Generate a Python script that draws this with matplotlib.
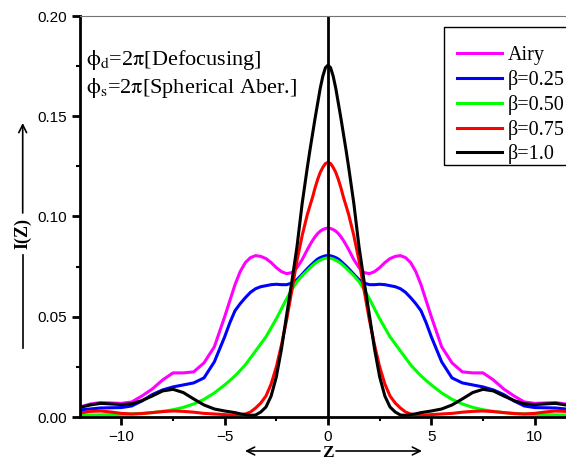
import matplotlib.pyplot as plt
from matplotlib.patches import Rectangle
import numpy as np

plt.rcParams['font.family'] = ['Liberation Sans', 'DejaVu Sans']
plt.rcParams['mathtext.fontset'] = 'stix'

## Data
z = [-12, -11.5, -11, -10.5, -10, -9.5, -9, -8.5, -8, -7.5, -7, -6.5, -6, -5.5,
     -5, -4.75, -4.5, -4.25, -4, -3.75, -3.5, -3.25, -3,
     -2.75, -2.5, -2.25, -2, -1.75, -1.5, -1.25, -1, -0.875, -0.75, -0.625, -0.5, -0.375, -0.25, -0.125,
     0,
     0.125, 0.25, 0.375, 0.5, 0.625, 0.75, 0.875, 1, 1.25, 1.5, 1.75, 2, 2.25, 2.5, 2.75,
     3, 3.25, 3.5, 3.75, 4, 4.25, 4.5, 4.75, 5,
     5.5, 6, 6.5, 7, 7.5, 8, 8.5, 9, 9.5, 10, 10.5, 11, 11.5, 12]

airy = [0.0050, 0.0065, 0.0072, 0.0070, 0.0068, 0.0075, 0.0105, 0.0140, 0.0185, 0.0220, 0.0220, 0.0225, 0.0270, 0.0350,
        0.0500, 0.0580, 0.0660, 0.0725, 0.0770, 0.0795, 0.0805, 0.0801, 0.0790,
        0.0770, 0.0745, 0.0725, 0.0715, 0.0720, 0.0745, 0.0785, 0.0835, 0.0858, 0.0880, 0.0899, 0.0915, 0.0927, 0.0935, 0.0940,
        0.0942,
        0.0940, 0.0935, 0.0927, 0.0915, 0.0899, 0.0880, 0.0858, 0.0835, 0.0785, 0.0745, 0.0720, 0.0715, 0.0725, 0.0745, 0.0770,
        0.0790, 0.0801, 0.0805, 0.0795, 0.0770, 0.0725, 0.0660, 0.0580, 0.0500,
        0.0350, 0.0270, 0.0225, 0.0220, 0.0220, 0.0185, 0.0140, 0.0105, 0.0075, 0.0068, 0.0070, 0.0072, 0.0065, 0.0050]

b025 = [0.0035, 0.0040, 0.0045, 0.0046, 0.0047, 0.0055, 0.0080, 0.0112, 0.0135, 0.0150, 0.0160, 0.0170, 0.0195, 0.0275,
        0.0400, 0.0470, 0.0530, 0.0565, 0.0595, 0.0622, 0.0640, 0.0650, 0.0655,
        0.0660, 0.0662, 0.0660, 0.0660, 0.0668, 0.0685, 0.0712, 0.0740, 0.0753, 0.0765, 0.0777, 0.0788, 0.0795, 0.0800, 0.0804,
        0.0805,
        0.0804, 0.0800, 0.0795, 0.0788, 0.0777, 0.0765, 0.0753, 0.0740, 0.0712, 0.0685, 0.0668, 0.0660, 0.0660, 0.0662, 0.0660,
        0.0655, 0.0650, 0.0640, 0.0622, 0.0595, 0.0565, 0.0530, 0.0470, 0.0400,
        0.0275, 0.0195, 0.0170, 0.0160, 0.0150, 0.0135, 0.0112, 0.0080, 0.0055, 0.0047, 0.0046, 0.0045, 0.0040, 0.0035]

b050 = [0.0008, 0.0010, 0.0011, 0.0012, 0.0013, 0.0015, 0.0018, 0.0022, 0.0028, 0.0036, 0.0048, 0.0065, 0.0088, 0.0120,
        0.0160, 0.0182, 0.0205, 0.0232, 0.0260, 0.0295, 0.0330, 0.0365, 0.0400,
        0.0445, 0.0490, 0.0540, 0.0590, 0.0635, 0.0675, 0.0705, 0.0730, 0.0743, 0.0755, 0.0766, 0.0775, 0.0782, 0.0788, 0.0792,
        0.0793,
        0.0792, 0.0788, 0.0782, 0.0775, 0.0766, 0.0755, 0.0743, 0.0730, 0.0705, 0.0675, 0.0635, 0.0590, 0.0540, 0.0490, 0.0445,
        0.0400, 0.0365, 0.0330, 0.0295, 0.0260, 0.0232, 0.0205, 0.0182, 0.0160,
        0.0120, 0.0088, 0.0065, 0.0048, 0.0036, 0.0028, 0.0022, 0.0018, 0.0015, 0.0013, 0.0012, 0.0011, 0.0010, 0.0008]

b075 = [0.0020, 0.0028, 0.0030, 0.0025, 0.0018, 0.0015, 0.0017, 0.0022, 0.0027, 0.0030, 0.0028, 0.0024, 0.0018, 0.0015,
        0.0012, 0.0010, 0.0010, 0.0011, 0.0015, 0.0025, 0.0045, 0.0070, 0.0105,
        0.0165, 0.0250, 0.0360, 0.0485, 0.0630, 0.0780, 0.0905, 0.1010, 0.1053, 0.1095, 0.1143, 0.1185, 0.1220, 0.1245, 0.1264,
        0.1270,
        0.1264, 0.1245, 0.1220, 0.1185, 0.1143, 0.1095, 0.1053, 0.1010, 0.0905, 0.0780, 0.0630, 0.0485, 0.0360, 0.0250, 0.0165,
        0.0105, 0.0070, 0.0045, 0.0025, 0.0015, 0.0011, 0.0010, 0.0010, 0.0012,
        0.0015, 0.0018, 0.0024, 0.0028, 0.0030, 0.0027, 0.0022, 0.0017, 0.0015, 0.0018, 0.0025, 0.0030, 0.0028, 0.0020]

b100 = [0.0048, 0.0060, 0.0068, 0.0065, 0.0062, 0.0066, 0.0082, 0.0105, 0.0130, 0.0138, 0.0122, 0.0090, 0.0060, 0.0040,
        0.0030, 0.0026, 0.0022, 0.0016, 0.0012, 0.0008, 0.0010, 0.0025, 0.0050,
        0.0105, 0.0200, 0.0340, 0.0510, 0.0675, 0.0850, 0.1065, 0.1245, 0.1330, 0.1410, 0.1490, 0.1565, 0.1640, 0.1700, 0.1742,
        0.1755,
        0.1742, 0.1700, 0.1640, 0.1565, 0.1490, 0.1410, 0.1330, 0.1245, 0.1065, 0.0850, 0.0675, 0.0510, 0.0340, 0.0200, 0.0105,
        0.0050, 0.0025, 0.0010, 0.0008, 0.0012, 0.0016, 0.0022, 0.0026, 0.0030,
        0.0040, 0.0060, 0.0090, 0.0122, 0.0138, 0.0130, 0.0105, 0.0082, 0.0066, 0.0062, 0.0065, 0.0068, 0.0060, 0.0048]

labels = ['Airy', 'β=0.25', 'β=0.50', 'β=0.75', 'β=1.0']
colors = ['#ff00ff', '#0000ff', '#00ff00', '#ff0000', '#000000']

W, H = 566, 461
fig = plt.figure(figsize=(W / 100, H / 100), dpi=100)
ax = fig.add_axes([80 / W, 1 - 417 / H, (576 - 80) / W, (417 - 16) / H])

for ys, lab, c in zip([airy, b025, b050, b075, b100], labels, colors):
    ax.plot(z, ys, color=c, lw=2.2, label=lab)

ax.axvline(0, color='black', lw=2)

ax.set_xlim(-12, 12)
ax.set_ylim(0, 0.20)
ax.set_xticks([-10, -5, 0, 5, 10])
ax.set_xticks([-7.5, -2.5, 2.5, 7.5], minor=True)
ax.set_yticks([0.00, 0.05, 0.10, 0.15, 0.20])
ax.set_yticklabels(['0.00', '0.05', '0.10', '0.15', '0.20'])
ax.set_yticks([0.025, 0.075, 0.125, 0.175], minor=True)
ax.tick_params(which='major', direction='out', length=6, width=2, labelsize=11)
ax.tick_params(which='minor', direction='out', length=3, width=1.5)

ax.spines['left'].set_linewidth(2)
ax.spines['bottom'].set_linewidth(2)
ax.spines['top'].set_linewidth(0.8)
ax.spines['top'].set_color('0.45')
ax.spines['right'].set_visible(False)

serif = ['Liberation Serif', 'DejaVu Serif']

def fx(px):
    return px / W

def fy(py):
    return 1 - py / H

## Annotation text
fig.text(fx(86), fy(65), r'$\mathrm{\phi}_{\rm d}$=2$\mathrm{\pi}$[Defocusing]',
         family=serif, fontsize=16, va='baseline', ha='left')
fig.text(fx(86), fy(93), r'$\mathrm{\phi}_{\rm s}$=2$\mathrm{\pi}$[Spherical Aber.]',
         family=serif, fontsize=16, va='baseline', ha='left')

## Legend: entries without frame, box drawn separately (it runs off the right edge)
leg = ax.legend(loc='upper left', bbox_to_anchor=(fx(456.5), fy(46)), bbox_transform=fig.transFigure,
                frameon=False, borderaxespad=0, borderpad=0,
                prop={'family': serif, 'size': 14.5}, handlelength=2.25, handletextpad=0.3,
                labelspacing=0.24)
fig.add_artist(Rectangle((fx(444), fy(165)), fx(200), (165 - 27) / H, transform=fig.transFigure,
                         fill=False, edgecolor='black', lw=1))

## Arrow-style axis labels
fig.text(fx(22.7), fy(233), 'I(Z)', rotation=90, ha='center', va='center',
         family=serif, fontweight='bold', fontsize=13)
fig.add_artist(plt.Line2D([fx(22.7), fx(22.7)], [fy(348), fy(255)], color='black', lw=1.2))
ax.annotate('', xy=(fx(22.7), fy(123)), xytext=(fx(22.7), fy(213)), xycoords='figure fraction',
            textcoords='figure fraction', arrowprops=dict(arrowstyle='->', lw=1.2, color='black',
                                                           shrinkA=0, shrinkB=0, mutation_scale=14))

fig.text(fx(328), fy(457), 'Z', ha='center', va='baseline', family=serif, fontweight='bold', fontsize=12.5)
ax.annotate('', xy=(fx(245), fy(451)), xytext=(fx(320), fy(451)), xycoords='figure fraction',
            textcoords='figure fraction', arrowprops=dict(arrowstyle='->', lw=1.2, color='black',
                                                           shrinkA=0, shrinkB=0, mutation_scale=14))
ax.annotate('', xy=(fx(422), fy(451)), xytext=(fx(336), fy(451)), xycoords='figure fraction',
            textcoords='figure fraction', arrowprops=dict(arrowstyle='->', lw=1.2, color='black',
                                                           shrinkA=0, shrinkB=0, mutation_scale=14))

fig.savefig('out.png', dpi=100)
